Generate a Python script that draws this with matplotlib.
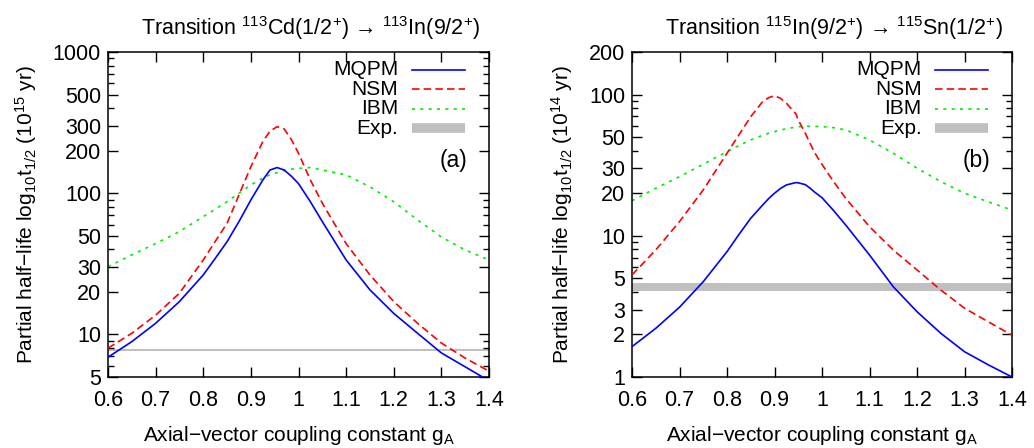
import matplotlib
matplotlib.use("Agg")
import matplotlib.pyplot as plt
from matplotlib.ticker import FixedLocator, NullFormatter

plt.rcParams['font.family'] = ['Liberation Sans', 'DejaVu Sans']
plt.rcParams['mathtext.fontset'] = 'custom'
plt.rcParams['mathtext.rm'] = 'Liberation Sans'
plt.rcParams['mathtext.it'] = 'Liberation Sans'
plt.rcParams['mathtext.bf'] = 'Liberation Sans'

# ---------------- data: panel (a) 113Cd -> 113In ----------------
ga_a = [0.6, 0.65, 0.7, 0.75, 0.8, 0.825, 0.85, 0.875, 0.9, 0.925, 0.94, 0.955, 0.97, 0.985,
        1.0, 1.025, 1.05, 1.1, 1.15, 1.2, 1.25, 1.3, 1.35, 1.4]
mqpm_a = [6.9, 8.9, 12.0, 17.1, 26.4, 34.5, 45.4, 63.0, 89.6, 124.0, 146.0, 152.0, 146.0, 132.0,
          117.0, 87.0, 63.0, 33.7, 20.7, 14.1, 10.2, 7.4, 5.9, 4.7]
nsm_a = [8.0, 10.2, 13.7, 19.6, 33.7, 45.5, 61.3, 97.3, 154.0, 232.0, 275.0, 296.0, 285.0, 240.0,
         192.0, 124.0, 85.0, 44.0, 26.4, 17.1, 12.0, 8.7, 6.8, 5.5]
ibm_a = [30.2, 36.6, 44.0, 53.5, 68.3, 77.0, 87.2, 100.0, 114.5, 128.0, 135.0, 140.0, 145.0, 148.0,
         150.0, 152.0, 146.0, 135.0, 111.0, 87.0, 64.7, 49.0, 39.6, 33.7]
exp_a = (7.70, 7.95)

# ---------------- data: panel (b) 115In -> 115Sn ----------------
ga_b = [0.6, 0.65, 0.7, 0.75, 0.8, 0.825, 0.85, 0.875, 0.8875, 0.9, 0.9125, 0.925, 0.945,
        0.95, 0.965, 0.975, 0.985, 1.0, 1.025, 1.05, 1.1, 1.15, 1.2, 1.25, 1.3, 1.35, 1.4]
mqpm_b = [1.64, 2.21, 3.12, 4.73, 7.72, 10.2, 13.3, 16.5, 18.3, 20.0, 21.6, 22.9, 23.8,
          23.7, 23.0, 21.7, 20.3, 18.6, 15.0, 11.9, 7.31, 4.36, 2.90, 2.04, 1.51, 1.22, 1.0]
nsm_b = [5.28, 7.93, 12.6, 21.1, 38.4, 51.7, 69.7, 89.0, 95.0, 98.0, 94.0, 86.8, 73.0,
         66.0, 53.0, 45.0, 38.5, 32.0, 24.0, 18.4, 11.6, 7.93, 5.73, 4.13, 3.07, 2.46, 1.98]
ibm_b = [17.7, 21.7, 26.2, 32.1, 39.4, 43.5, 47.7, 51.5, 53.1, 54.6, 56.0, 57.3, 58.8,
         59.1, 59.5, 59.6, 59.5, 59.3, 58.2, 56.1, 47.7, 38.4, 30.1, 24.2, 20.0, 17.4, 15.2]
exp_b = (4.08, 4.61)

xticks = [0.6, 0.7, 0.8, 0.9, 1.0, 1.1, 1.2, 1.3, 1.4]
xticklabels = ['0.6', '0.7', '0.8', '0.9', '1', '1.1', '1.2', '1.3', '1.4']
yticks_a = [5, 10, 20, 30, 50, 100, 200, 300, 500, 1000]
yticks_b = [1, 2, 3, 5, 10, 20, 30, 50, 100, 200]

series_labels = ['MQPM', 'NSM', 'IBM', 'Exp.']

BLUE, RED, GREEN, GREY = '#0000ff', '#ff0000', '#00ee00', '#c0c0c0'
FS = 15.5
FSL = 15

fig = plt.figure(figsize=(10.34, 4.48), dpi=100)
ax_a = fig.add_axes([108/1034, 71/448, 381/1034, 325/448])
ax_b = fig.add_axes([632/1034, 71/448, 380/1034, 325/448])


def minor_ticks(lo, hi, majors):
    out = []
    dec = 1
    while dec <= hi * 10:
        for m in range(1, 10):
            v = m * dec
            if lo <= v <= hi and v not in majors:
                out.append(v)
        dec *= 10
    return out


def draw(ax, ga, mq, ns, ib, ex, ylim, yt, ylab, title, tag):
    ax.fill_between([0.6, 1.4], [ex[0]] * 2, [ex[1]] * 2, color=GREY, lw=0, zorder=1)
    ax.plot(ga, ib, color=GREEN, lw=1.2, dashes=(1.8, 3.2), zorder=2)
    ax.plot(ga, ns, color=RED, lw=1.2, dashes=(4.5, 2.5), zorder=3)
    ax.plot(ga, mq, color=BLUE, lw=1.2, zorder=4)
    ax.set_yscale('log')
    ax.set_xlim(0.6, 1.4)
    ax.set_ylim(*ylim)
    ax.set_xticks(xticks)
    ax.set_xticklabels(xticklabels)
    ax.yaxis.set_major_locator(FixedLocator(yt))
    ax.yaxis.set_minor_locator(FixedLocator(minor_ticks(ylim[0], ylim[1], yt)))
    ax.yaxis.set_minor_formatter(NullFormatter())
    ax.set_yticklabels([str(v) for v in yt])
    ax.tick_params(which='both', direction='in', top=True, right=True, labelsize=FS,
                   width=1.0, color='black')
    ax.tick_params(which='major', length=7, pad=5)
    ax.tick_params(which='minor', length=4.5)
    ax.tick_params(axis='x', which='major', pad=9)
    for s in ax.spines.values():
        s.set_linewidth(1.1)
    ax.set_xlabel(r'Axial$-$vector coupling constant g$_\mathregular{A}$', fontsize=FSL, labelpad=10)
    ax.set_ylabel(ylab, fontsize=FSL, labelpad=10)
    ax.text(0.532, 1.03, title, transform=ax.transAxes, ha='center', va='bottom', fontsize=FS)
    ax.text(0.907, 0.665, tag, transform=ax.transAxes, ha='center', va='center', fontsize=FS + 1)
    # legend (gnuplot style: right-aligned text, sample on right)
    rows = [0.946, 0.886, 0.826, 0.766]
    styles = [dict(color=BLUE, lw=1.2),
              dict(color=RED, lw=1.2, dashes=(4.5, 2.5)),
              dict(color=GREEN, lw=1.2, dashes=(1.8, 3.2)),
              dict(color=GREY, lw=7, solid_capstyle='butt')]
    for lab, yy, st in zip(series_labels, rows, styles):
        ax.text(0.762, yy, lab, transform=ax.transAxes, ha='right', va='center', fontsize=FSL)
        ax.plot([0.797, 0.938], [yy, yy], transform=ax.transAxes, clip_on=False, **st)


draw(ax_a, ga_a, mqpm_a, nsm_a, ibm_a, exp_a, (5, 1000), yticks_a,
     r'Partial half$-$life log$_{10}$t$_{1/2}$ (10$^{15}$ yr)',
     r'Transition $^{113}$Cd(1/2$^{+}$) → $^{113}$In(9/2$^{+}$)', '(a)')
draw(ax_b, ga_b, mqpm_b, nsm_b, ibm_b, exp_b, (1, 200), yticks_b,
     r'Partial half$-$life log$_{10}$t$_{1/2}$ (10$^{14}$ yr)',
     r'Transition $^{115}$In(9/2$^{+}$) → $^{115}$Sn(1/2$^{+}$)', '(b)')

fig.savefig('out.png', dpi=100)
